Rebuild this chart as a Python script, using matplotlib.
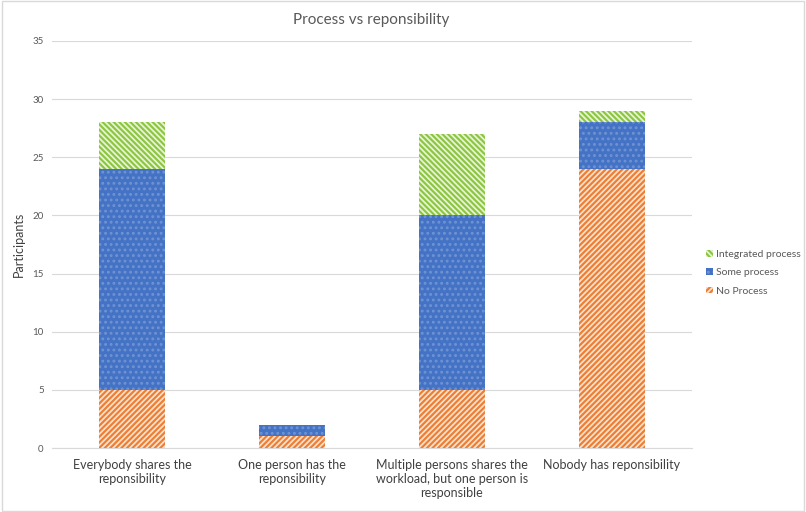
import matplotlib.pyplot as plt
import numpy as np

plt.rcParams['font.family'] = ['Lato', 'DejaVu Sans']
plt.rcParams['hatch.linewidth'] = 1.3

categories = ['Everybody shares the\nreponsibility',
              'One person has the\nreponsibility',
              'Multiple persons shares the\nworkload, but one person is\nresponsible',
              'Nobody has reponsibility']
no_process = [5, 1, 5, 24]
some_process = [19, 1, 15, 4]
integrated_process = [4, 0, 7, 1]
y_ticks = [0, 5, 10, 15, 20, 25, 30, 35]

fig = plt.figure(figsize=(8.06, 5.12), dpi=100)
ax = fig.add_axes([0.0645, 0.125, 0.794, 0.795])

x = np.arange(len(categories))
w = 0.41
no_arr = np.array(no_process)
some_arr = np.array(some_process)

b1 = ax.bar(x, no_process, w, color='#ED7D31', edgecolor='#FBE0CC', linewidth=0,
            hatch='//////', label='No Process', zorder=3)
b2 = ax.bar(x, some_process, w, bottom=no_arr, color='#4472C4', edgecolor='#6F93D3',
            linewidth=0, hatch='...', label='Some process', zorder=3)
b3 = ax.bar(x, integrated_process, w, bottom=no_arr + some_arr, color='#8CC63F',
            edgecolor='#E6F3D5', linewidth=0, hatch='\\\\\\\\\\\\', label='Integrated process',
            zorder=3)

ax.set_xlim(-0.5, len(categories) - 0.5)
ax.set_ylim(0, 35)
ax.set_yticks(y_ticks)
ax.tick_params(axis='y', labelsize=7, colors='#595959', length=0, pad=6)
ax.tick_params(axis='x', labelsize=9, colors='#404040', length=0, pad=8)
ax.set_xticks(x)
ax.set_xticklabels(categories)
ax.grid(axis='y', color='#D9D9D9', linewidth=0.8, zorder=0)
for s in ['top', 'right', 'left']:
    ax.spines[s].set_visible(False)
ax.spines['bottom'].set_color('#D9D9D9')

ax.set_ylabel('Participants', fontsize=9, color='#404040')
ax.yaxis.set_label_coords(-0.042, 0.5)
fig.suptitle('Process vs reponsibility', x=0.46, y=0.975, fontsize=11, color='#595959')

handles = [b3, b2, b1]
leg = ax.legend(handles, [h.get_label() for h in handles], loc='center left',
                bbox_to_anchor=(1.008, 0.43), frameon=False, fontsize=7.5,
                handlelength=0.6, handleheight=0.6, handletextpad=0.3,
                labelspacing=0.9, labelcolor='#595959')

fig.add_artist(plt.Rectangle((0.002, 0.002), 0.996, 0.996, transform=fig.transFigure,
                             fill=False, edgecolor='#D9D9D9', linewidth=1))

fig.savefig('out.png', dpi=100)
